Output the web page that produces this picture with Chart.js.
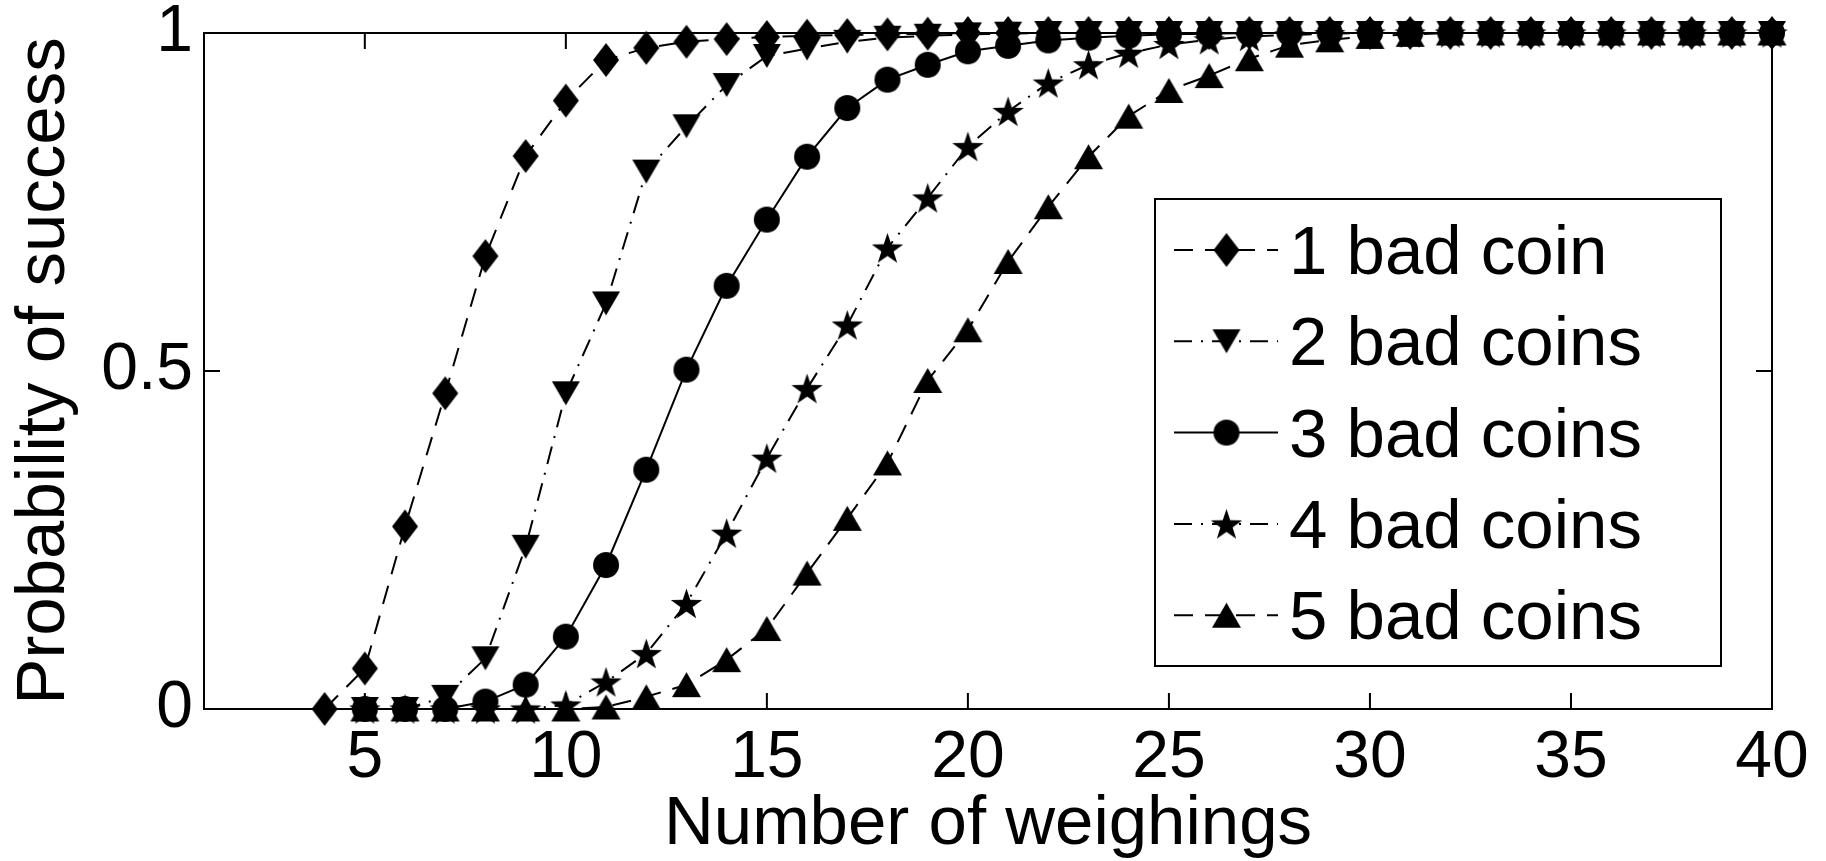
<!DOCTYPE html>
<html>
<head>
<meta charset="utf-8">
<script src="https://cdn.jsdelivr.net/npm/chart.js@4.4.1/dist/chart.umd.min.js"></script>
<style>
  html, body { margin: 0; padding: 0; background: #ffffff; }
  #wrap { width: 1826px; height: 861px; position: relative; }
</style>
</head>
<body>
<div id="wrap"><canvas id="coins"></canvas></div>
<script>
// Number of weighings (x axis)
const weighings = [4, 5, 6, 7, 8, 9, 10, 11, 12, 13, 14, 15, 16, 17, 18, 19, 20, 21, 22,
    23, 24, 25, 26, 27, 28, 29, 30, 31, 32, 33, 34, 35, 36, 37, 38, 39, 40];

// Probability of success, one value per weighing (null = no point)
const oneCoin = [0, 0.06, 0.27, 0.467, 0.67, 0.818, 0.90, 0.96, 0.978, 0.987, 0.991, 0.994,
    0.996, 0.997, 0.998, 0.999, 1, 1, 1, 1, 1, 1, 1, 1, 1, 1, 1, 1, 1, 1, 1, 1, 1, 1, 1, 1, 1];
const twoCoins = [null, 0, 0, 0.018, 0.075, 0.24, 0.467, 0.60, 0.795, 0.862, 0.923, 0.966,
    0.977, 0.987, 0.993, 0.996, 0.998, 0.999, 1, 1, 1, 1, 1, 1, 1, 1, 1, 1, 1, 1, 1, 1, 1, 1, 1, 1, 1];
const threeCoins = [null, 0, 0, 0, 0.011, 0.036, 0.107, 0.213, 0.354, 0.502, 0.626, 0.724,
    0.817, 0.889, 0.931, 0.953, 0.973, 0.981, 0.989, 0.993, 0.996, 0.998, 0.999, 1, 1, 1, 1, 1,
    1, 1, 1, 1, 1, 1, 1, 1, 1];
const fourCoins = [null, 0, 0, 0, 0, 0, 0.006, 0.040, 0.082, 0.156, 0.260, 0.371, 0.474, 0.568,
    0.682, 0.756, 0.832, 0.884, 0.926, 0.953, 0.970, 0.983, 0.990, 0.995, 0.997, 0.999, 1, 1, 1,
    1, 1, 1, 1, 1, 1, 1, 1];
const fiveCoins = [null, 0, 0, 0, 0, 0, 0, 0.003, 0.018, 0.036, 0.073, 0.119, 0.201, 0.282,
    0.364, 0.486, 0.561, 0.662, 0.743, 0.817, 0.877, 0.915, 0.937, 0.962, 0.982, 0.990, 0.995,
    0.998, 1, 1, 1, 1, 1, 1, 1, 1, 1];

const seriesNames = ['1 bad coin', '2 bad coins', '3 bad coins', '4 bad coins', '5 bad coins'];
const xTicks = [5, 10, 15, 20, 25, 30, 35, 40];
const yTicks = [0, 0.5, 1];

const FONT = "'Liberation Sans', Arial, Helvetica, sans-serif";
const DASHED = [19, 12];
const DASH_DOT = [18, 9, 2, 9];

// filled MATLAB-like markers drawn on small canvases
function makeMarker(kind) {
    const c = document.createElement('canvas');
    const w = { diamond: 26, down: 28, circle: 26, star: 33, up: 29 }[kind];
    const h = { diamond: 34, down: 24, circle: 26, star: 33, up: 25 }[kind];
    c.width = w + 2;
    c.height = h + 2;
    const g = c.getContext('2d');
    g.fillStyle = '#000';
    g.translate(c.width / 2, c.height / 2);
    g.beginPath();
    if (kind === 'diamond') {
        g.moveTo(0, -h / 2); g.lineTo(w / 2, 0); g.lineTo(0, h / 2); g.lineTo(-w / 2, 0);
    } else if (kind === 'down') {
        g.moveTo(-w / 2, -h / 2); g.lineTo(w / 2, -h / 2); g.lineTo(0, h / 2);
    } else if (kind === 'up') {
        g.moveTo(-w / 2, h / 2); g.lineTo(w / 2, h / 2); g.lineTo(0, -h / 2);
    } else if (kind === 'circle') {
        g.arc(0, 0, w / 2, 0, Math.PI * 2);
    } else {
        const R = 16.5, r = 6.4;
        for (let i = 0; i < 10; i++) {
            const a = -Math.PI / 2 + i * Math.PI / 5;
            const rad = i % 2 ? r : R;
            g.lineTo(rad * Math.cos(a), rad * Math.sin(a) + 1.5);
        }
    }
    g.closePath();
    g.fill();
    return c;
}

const markers = ['diamond', 'down', 'circle', 'star', 'up'].map(makeMarker);
const dashes = [DASHED, DASH_DOT, [], DASH_DOT, DASHED];
const values = [oneCoin, twoCoins, threeCoins, fourCoins, fiveCoins];

// box round the axes with inward ticks on all four sides
const framePlugin = {
    id: 'frame',
    beforeDatasetsDraw(chart) {
        const { ctx, chartArea: a, scales } = chart;
        ctx.save();
        ctx.strokeStyle = '#000';
        ctx.lineWidth = 2;
        ctx.strokeRect(a.left, a.top, a.right - a.left, a.bottom - a.top);
        const len = 16;
        ctx.beginPath();
        xTicks.forEach(v => {
            const px = scales.x.getPixelForValue(v);
            ctx.moveTo(px, a.bottom); ctx.lineTo(px, a.bottom - len);
            ctx.moveTo(px, a.top); ctx.lineTo(px, a.top + len);
        });
        yTicks.forEach(v => {
            const py = scales.y.getPixelForValue(v);
            ctx.moveTo(a.left, py); ctx.lineTo(a.left + len, py);
            ctx.moveTo(a.right, py); ctx.lineTo(a.right - len, py);
        });
        ctx.stroke();
        ctx.restore();
    }
};

// legend box inside the plot, lower right
const legendPlugin = {
    id: 'boxLegend',
    afterDraw(chart) {
        const { ctx, chartArea: a } = chart;
        const left = a.right - 617, top = a.top + 166, w = 566, h = 467;
        ctx.save();
        ctx.fillStyle = '#fff';
        ctx.fillRect(left, top, w, h);
        ctx.strokeStyle = '#000';
        ctx.lineWidth = 2;
        ctx.strokeRect(left, top, w, h);
        ctx.font = '69px ' + FONT;
        ctx.textBaseline = 'alphabetic';
        ctx.fillStyle = '#000';
        chart.data.datasets.forEach((ds, i) => {
            const y = top + 51 + i * 91.3;
            const x0 = left + 19, x1 = left + 123;
            ctx.setLineDash(ds.borderDash);
            ctx.lineWidth = 2;
            ctx.beginPath();
            ctx.moveTo(x0, y); ctx.lineTo(x1, y);
            ctx.stroke();
            ctx.setLineDash([]);
            const m = ds.pointStyle;
            ctx.drawImage(m, left + 71.5 - m.width / 2, y - m.height / 2);
            ctx.fillText(ds.label, left + 134, y + 24);
        });
        ctx.restore();
    }
};

new Chart(document.getElementById('coins'), {
    type: 'line',
    data: {
        labels: weighings,
        datasets: values.map((vals, i) => ({
            label: seriesNames[i],
            data: vals,
            borderColor: '#000',
            backgroundColor: '#000',
            borderWidth: 2,
            borderDash: dashes[i],
            pointStyle: markers[i],
            pointRadius: 12,
            pointHoverRadius: 12,
            tension: 0,
            fill: false,
            clip: false,
            order: 5 - i
        }))
    },
    options: {
        responsive: true,
        maintainAspectRatio: false,
        animation: false,
        events: [],
        layout: { padding: { left: 0, top: 33, right: 54, bottom: 0 } },
        plugins: {
            legend: { display: false },
            tooltip: { enabled: false }
        },
        scales: {
            x: {
                type: 'linear',
                min: 1,
                max: 40,
                grid: { display: false, drawTicks: false },
                border: { display: false },
                afterBuildTicks: s => { s.ticks = xTicks.map(v => ({ value: v })); },
                afterFit: s => { s.height = 152; s.paddingLeft = 0; s.paddingRight = 0; },
                ticks: {
                    color: '#000',
                    padding: 17,
                    maxRotation: 0,
                    autoSkip: false,
                    font: { family: FONT, size: 66, lineHeight: 1 },
                    callback: v => String(v)
                },
                title: {
                    display: true,
                    text: 'Number of weighings',
                    color: '#000',
                    font: { family: FONT, size: 69, lineHeight: 1 },
                    padding: { top: 0, bottom: 2 }
                }
            },
            y: {
                min: 0,
                max: 1,
                grid: { display: false, drawTicks: false },
                border: { display: false },
                afterBuildTicks: s => { s.ticks = yTicks.map(v => ({ value: v })); },
                afterFit: s => { s.width = 204; s.paddingTop = 0; s.paddingBottom = 0; },
                ticks: {
                    color: '#000',
                    padding: 11,
                    autoSkip: false,
                    font: { family: FONT, size: 66, lineHeight: 1 },
                    callback: v => String(v)
                },
                title: {
                    display: true,
                    text: 'Probability of success',
                    color: '#000',
                    font: { family: FONT, size: 69, lineHeight: 1 },
                    padding: { top: 10, bottom: 0 }
                }
            }
        }
    },
    plugins: [framePlugin, legendPlugin]
});
</script>
</body>
</html>
